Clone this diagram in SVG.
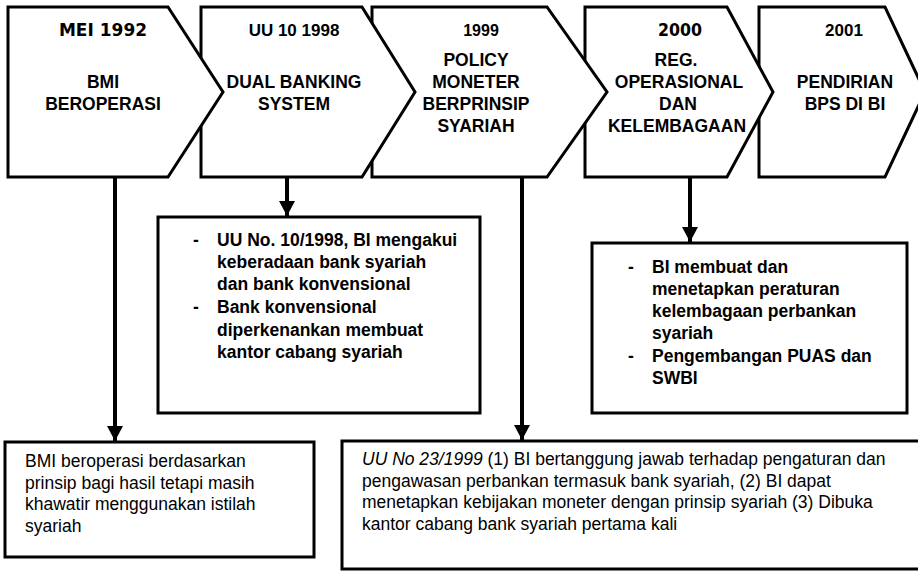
<svg xmlns="http://www.w3.org/2000/svg" width="918" height="572" viewBox="0 0 918 572">
<style>
.shape{fill:#fff;stroke:#000;stroke-width:3;stroke-linejoin:miter}
.lbl{font-family:"Liberation Sans",Arial,sans-serif;font-weight:bold;font-size:17.5px;text-anchor:middle;fill:#000}
.yr{font-family:"DejaVu Sans",Tahoma,sans-serif;font-weight:bold;font-size:17px;text-anchor:middle;fill:#000}
.yra{font-family:"Liberation Sans",Arial,sans-serif;font-weight:bold;font-size:17px;text-anchor:middle;fill:#000}
.bt{font-family:"Liberation Sans",Arial,sans-serif;font-weight:bold;font-size:17.5px;fill:#000}
.rt{font-family:"Liberation Sans",Arial,sans-serif;font-size:17.5px;fill:#000}
.conn{stroke:#000;stroke-width:4;fill:none;marker-end:url(#ah)}
</style>
<defs>
<marker id="ah" markerUnits="userSpaceOnUse" markerWidth="16" markerHeight="16" refX="15" refY="8" orient="auto">
<path d="M0,0 L15,8 L0,16 Z" fill="#000"/>
</marker>
</defs>
<rect width="918" height="572" fill="#fff"/>
<g id="connectors">
<line class="conn" x1="115" y1="178" x2="115" y2="441"/>
<line class="conn" x1="287" y1="178" x2="287" y2="216"/>
<line class="conn" x1="522" y1="178" x2="522" y2="440"/>
<line class="conn" x1="690" y1="178" x2="690" y2="242"/>
</g>
<g id="node-2001">
<polygon class="shape" points="759,7 885,7 925,92 885,177 759,177"/>
<text class="yra" x="844" y="36">2001</text>
<text class="lbl" x="845" y="88">PENDIRIAN</text>
<text class="lbl" x="845" y="110">BPS DI BI</text>
</g>
<g id="node-2000">
<polygon class="shape" points="585,7 727,7 773,92 727,177 585,177"/>
<text class="yr" x="680" y="36" textLength="44" lengthAdjust="spacingAndGlyphs">2000</text>
<text class="lbl" x="676" y="66">REG.</text>
<text class="lbl" x="679" y="88">OPERASIONAL</text>
<text class="lbl" x="678" y="110">DAN</text>
<text class="lbl" x="677" y="132">KELEMBAGAAN</text>
</g>
<g id="node-1999">
<polygon class="shape" points="372,7 547,7 607,92 547,177 372,177"/>
<text class="yra" x="481" y="36" style="font-size:16px">1999</text>
<text class="lbl" x="476" y="66">POLICY</text>
<text class="lbl" x="476" y="88">MONETER</text>
<text class="lbl" x="476" y="110">BERPRINSIP</text>
<text class="lbl" x="476" y="132">SYARIAH</text>
</g>
<g id="node-1998">
<polygon class="shape" points="201,7 362,7 415,92 362,177 201,177"/>
<text class="yra" x="294" y="36">UU 10 1998</text>
<text class="lbl" x="294" y="88">DUAL BANKING</text>
<text class="lbl" x="294" y="110">SYSTEM</text>
</g>
<g id="node-1992">
<polygon class="shape" points="8,7 168,7 223,92 168,177 8,177"/>
<text class="yr" x="103" y="36">MEI 1992</text>
<text class="lbl" x="103" y="88">BMI</text>
<text class="lbl" x="103" y="110">BEROPERASI</text>
</g>
<g id="box-1998">
<rect class="shape" x="158" y="217" width="322" height="196"/>
<text class="bt" x="193" y="246">-</text>
<text class="bt" x="217" y="246">UU No. 10/1998, BI mengakui</text>
<text class="bt" x="217" y="268">keberadaan bank syariah</text>
<text class="bt" x="217" y="290">dan bank konvensional</text>
<text class="bt" x="193" y="313">-</text>
<text class="bt" x="217" y="313">Bank konvensional</text>
<text class="bt" x="217" y="335.5">diperkenankan membuat</text>
<text class="bt" x="217" y="358">kantor cabang syariah</text>
</g>
<g id="box-2000">
<rect class="shape" x="592" y="243" width="315" height="170"/>
<text class="bt" x="628" y="273">-</text>
<text class="bt" x="652" y="273">BI membuat dan</text>
<text class="bt" x="652" y="295">menetapkan peraturan</text>
<text class="bt" x="652" y="317">kelembagaan perbankan</text>
<text class="bt" x="652" y="339">syariah</text>
<text class="bt" x="628" y="362">-</text>
<text class="bt" x="652" y="362">Pengembangan PUAS dan</text>
<text class="bt" x="652" y="384">SWBI</text>
</g>
<g id="box-1992">
<rect class="shape" x="5" y="442" width="309" height="115"/>
<text class="rt" x="25" y="467">BMI beroperasi berdasarkan</text>
<text class="rt" x="25" y="488.5">prinsip bagi hasil tetapi masih</text>
<text class="rt" x="25" y="510">khawatir menggunakan istilah</text>
<text class="rt" x="25" y="531.5">syariah</text>
</g>
<g id="box-1999">
<rect class="shape" x="342" y="441" width="590" height="128"/>
<text class="rt" x="362" y="465"><tspan font-style="italic">UU No 23/1999</tspan> (1) BI bertanggung jawab terhadap pengaturan dan</text>
<text class="rt" x="362" y="486.5">pengawasan perbankan termasuk bank syariah, (2) BI dapat</text>
<text class="rt" x="362" y="508">menetapkan kebijakan moneter dengan prinsip syariah (3) Dibuka</text>
<text class="rt" x="362" y="529.5">kantor cabang bank syariah pertama kali</text>
</g>
</svg>
